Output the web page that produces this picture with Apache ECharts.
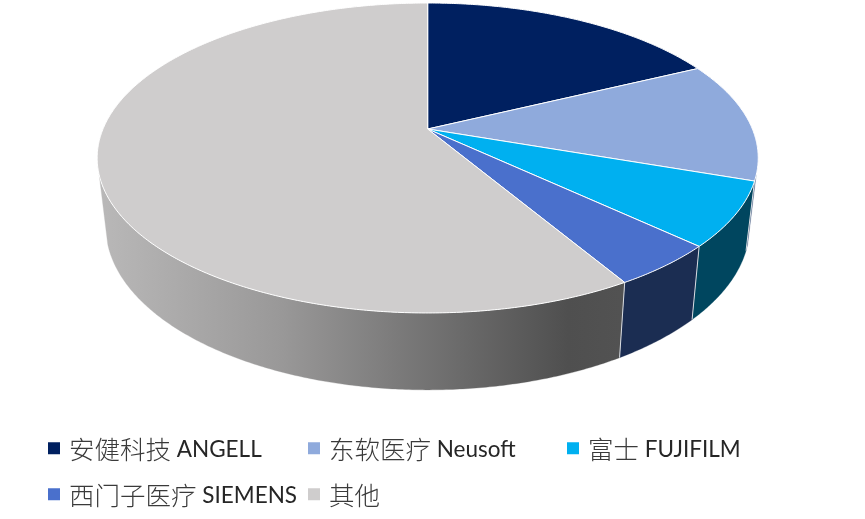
<!DOCTYPE html>
<html><head><meta charset="utf-8">
<style>html,body{margin:0;padding:0;background:#fff}#c{width:865px;height:519px}</style>
<script src="https://cdn.jsdelivr.net/npm/echarts@6/dist/echarts.min.js"></script>
</head><body><div id="c"></div>
<script>
const categories = ['安健科技 ANGELL','东软医疗 Neusoft','富士 FUJIFILM','西门子医疗 SIEMENS','其他'];
const shares = [17.8,12.5,6.7,4.5,58.5];
const topColors = ['#002060','#8FAADC','#00B0F0','#4A70CC','#CFCDCD'];
const wallColors = ['#001030','#4F6288','#00465F','#1B2D52','#777777'];
const legendLeft = [48,308,567,48,308];
const legendTop = [437,437,437,483,483];

const chart = echarts.init(document.getElementById('c'));
const total = shares.reduce((a,b)=>a+b,0);
const rad = d => d*Math.PI/180;
// perspective map: unit disc onto the picture plane
const A=324.7,B=125.44,C=129,T=-0.187,CX=427.7;
function topPt(deg){
  const u=Math.sin(rad(deg)), v=-Math.cos(rad(deg));
  const w=1+T*v;
  return [CX+A*u/w,(B*v+C)/w];
}
function botPt(deg){
  const p=topPt(deg);
  return [CX+(p[0]-CX)*0.974, p[1]+66.8+0.055*(p[1]-129)];
}
function arc(fn,a,b){
  const n=Math.max(2,Math.ceil(Math.abs(b-a)*2)),out=[];
  for(let i=0;i<=n;i++) out.push(fn(a+(b-a)*i/n));
  return out;
}
const WALL_FROM=107, WALL_TO=253;
const starts=[];let acc=0;
shares.forEach(s=>{starts.push(acc/total*360);acc+=s;});

function makeRender(i){
  return function(params,api){
    const a=starts[i], b=a+api.value(0)/total*360;
    const kids=[];
    const wa=Math.max(a,WALL_FROM), wb=Math.min(b,WALL_TO);
    if(wb>wa){
      const pts=arc(topPt,wa,wb).concat(arc(botPt,wa,wb).reverse());
      const fill = i===4
        ? new echarts.graphic.LinearGradient(100,0,620,0,[
            {offset:0,color:'#B9B8B8'},{offset:0.35,color:'#999898'},
            {offset:0.9,color:'#4F4F4F'},{offset:1,color:'#525252'}],true)
        : wallColors[i];
      kids.push({type:'polygon',shape:{points:pts},style:{fill:fill,stroke:fill,lineWidth:0.3}});
      if(a>=WALL_FROM&&a<=WALL_TO)
        kids.push({type:'polyline',shape:{points:[topPt(a),botPt(a)]},style:{fill:'none',stroke:'#D8DCE2',lineWidth:1}});
    }
    const top=[[CX,C]].concat(arc(topPt,a,b));
    kids.push({type:'polygon',shape:{points:top},style:{fill:topColors[i],stroke:'#FFFFFF',lineWidth:1}});
    return {type:'group',children:kids};
  };
}
const latinFont="Lato, sans-serif", cjkFont="'Noto Sans CJK SC', sans-serif";
function legendLabel(name){
  const parts=name.split(' ');
  const cjk='{c|'+parts[0]+'}';
  return parts[1] ? cjk+'{l| '+parts[1]+'}' : cjk;
}
chart.setOption({
  animation:false,
  backgroundColor:'#fff',
  legend:categories.map((n,i)=>({
    data:[{name:n,icon:'rect'}],left:legendLeft[i],top:legendTop[i],padding:0,
    itemWidth:12,itemHeight:12,itemGap:0,
    selectedMode:false,
    formatter:legendLabel,
    textStyle:{
      padding:[3,0,0,4],
      rich:{
        c:{fontFamily:cjkFont,fontSize:25.5,color:'#3A3A3A',fontWeight:300},
        l:{fontFamily:latinFont,fontSize:22.5,color:'#262626'}
      }
    }
  })),
  series:categories.map((n,i)=>({
    type:'custom',name:n,coordinateSystem:'none',
    data:[[shares[i]]],
    itemStyle:{color:topColors[i]},
    silent:true,
    renderItem:makeRender(i)
  }))
});
</script></body></html>
